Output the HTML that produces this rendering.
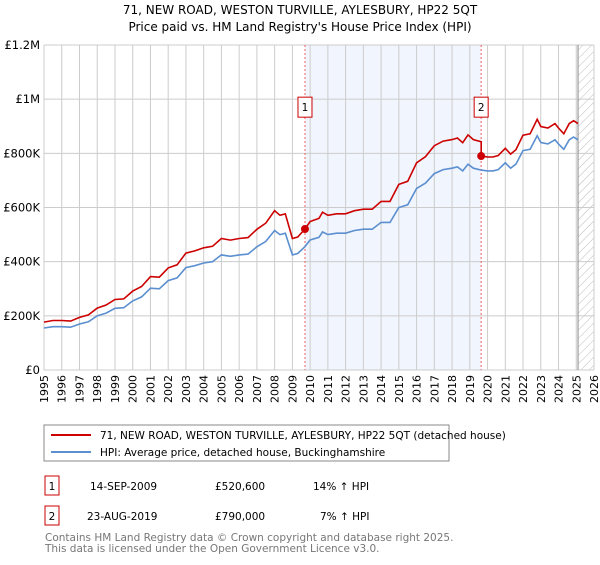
<!DOCTYPE html>
<html><head><meta charset="utf-8"><style>
body{margin:0;background:#fff;font-family:"Liberation Sans","DejaVu Sans",sans-serif;}
svg text{font-family:"DejaVu Sans","Liberation Sans",sans-serif;}
</style></head><body>
<svg id="c" width="600" height="560" xmlns="http://www.w3.org/2000/svg">
<defs><pattern id="hatch" width="6" height="6" patternUnits="userSpaceOnUse" patternTransform="rotate(45)"><line x1="0" y1="0" x2="0" y2="6" stroke="#bbb" stroke-width="1"/></pattern></defs>
<text x="300" y="14" text-anchor="middle" font-size="12">71, NEW ROAD, WESTON TURVILLE, AYLESBURY, HP22 5QT</text>
<text x="300" y="31" text-anchor="middle" font-size="12">Price paid vs. HM Land Registry's House Price Index (HPI)</text>
<g id="plot"></g>
<rect x="44" y="425" width="405" height="36" fill="#fff" stroke="#888"/>
<line x1="51" y1="435" x2="91" y2="435" stroke="#cc0000" stroke-width="2"/>
<text x="100" y="439" font-size="10.5">71, NEW ROAD, WESTON TURVILLE, AYLESBURY, HP22 5QT (detached house)</text>
<line x1="51" y1="452" x2="91" y2="452" stroke="#5b8fd0" stroke-width="2"/>
<text x="100" y="456" font-size="10.5">HPI: Average price, detached house, Buckinghamshire</text>
<rect x="45" y="476" width="14" height="19" fill="#fff" stroke="#cc0000"/>
<text x="52" y="490" font-size="10.5" text-anchor="middle">1</text>
<text x="90" y="490" font-size="10.5">14-SEP-2009</text>
<text x="215" y="490" font-size="10.5">£520,600</text>
<text x="313" y="490" font-size="10.5">14% ↑ HPI</text>
<rect x="45" y="506" width="14" height="19" fill="#fff" stroke="#cc0000"/>
<text x="52" y="520" font-size="10.5" text-anchor="middle">2</text>
<text x="87" y="520" font-size="10.5">23-AUG-2019</text>
<text x="215" y="520" font-size="10.5">£790,000</text>
<text x="320" y="520" font-size="10.5">7% ↑ HPI</text>
<text x="45" y="541" font-size="10.5" fill="#777">Contains HM Land Registry data © Crown copyright and database right 2025.</text>
<text x="45" y="552" font-size="10.5" fill="#777">This data is licensed under the Open Government Licence v3.0.</text>
</svg>
<script>
const hpiYears=[1995,1995.5,1996,1996.5,1997,1997.5,1998,1998.5,1999,1999.5,2000,2000.5,2001,2001.5,2002,2002.5,2003,2003.5,2004,2004.5,2005,2005.5,2006,2006.5,2007,2007.5,2008,2008.3,2008.6,2009,2009.3,2009.7,2010,2010.5,2010.7,2011,2011.5,2012,2012.5,2013,2013.5,2014,2014.5,2015,2015.5,2016,2016.5,2017,2017.5,2018,2018.3,2018.6,2018.9,2019.2,2019.65,2020,2020.3,2020.6,2021,2021.3,2021.6,2022,2022.4,2022.8,2023,2023.4,2023.8,2024,2024.3,2024.6,2024.85,2025.1];
const hpiValues=[155,160,160,158,170,178,200,210,228,230,255,270,302,300,330,340,378,385,395,400,425,420,425,428,455,475,515,500,505,425,430,455,480,490,510,500,505,505,515,520,520,545,545,600,610,670,690,725,740,745,750,735,760,745,738,735,735,740,765,745,760,810,815,865,840,835,850,835,815,850,860,850];
const saleYears=[2009.71,2019.64];
const salePrices=[520.6,790];
const yTicks=[0,200,400,600,800,1000,1200];
const yLabels=["£0","£200K","£400K","£600K","£800K","£1M","£1.2M"];
const xTicks=[1995,1996,1997,1998,1999,2000,2001,2002,2003,2004,2005,2006,2007,2008,2009,2010,2011,2012,2013,2014,2015,2016,2017,2018,2019,2020,2021,2022,2023,2024,2025,2026];
const X0=44,X1=594,Y0=370,Y1=45;
const xs=y=>X0+(y-1995)/(2026-1995)*(X1-X0);
const ys=v=>Y0-v/1200*(Y0-Y1);
const NS="http://www.w3.org/2000/svg";
const g=document.getElementById('plot');
function mk(t,a){const e=document.createElementNS(NS,t);for(const k in a)e.setAttribute(k,a[k]);g.appendChild(e);return e;}
function hpiAt(y){for(let i=1;i<hpiYears.length;i++){if(y<=hpiYears[i]){const t=(y-hpiYears[i-1])/(hpiYears[i]-hpiYears[i-1]);return hpiValues[i-1]+t*(hpiValues[i]-hpiValues[i-1]);}}return hpiValues[hpiValues.length-1];}
let r=mk('rect',{x:xs(saleYears[0]),y:Y1,width:xs(saleYears[1])-xs(saleYears[0]),height:Y0-Y1,fill:'#eef3fc',opacity:0.8});


let hr=mk('rect',{x:xs(2025.1),y:Y1,width:X1-xs(2025.1),height:Y0-Y1,fill:'url(#hatch)'});


xTicks.forEach(t=>{const l=mk('line',{x1:xs(t),x2:xs(t),y1:Y1,y2:Y0,stroke:'#ccc'});


const tx=mk('text',{x:0,y:0,'font-size':'11','text-anchor':'end',transform:`translate(${xs(t)+4},${Y0+5}) rotate(-90)`});tx.textContent=t;

});
yTicks.forEach((t,i)=>{const l=mk('line',{x1:X0,x2:X1,y1:ys(t),y2:ys(t),stroke:'#ccc'});


const tx=mk('text',{x:X0-4,y:ys(t)+4,'font-size':'11.5','text-anchor':'end'});tx.textContent=yLabels[i];

});
let bl=mk('line',{x1:xs(2025.1),x2:xs(2025.1),y1:Y1,y2:Y0,stroke:'#888'});


saleYears.forEach((s,i)=>{const l=mk('line',{x1:xs(s),x2:xs(s),y1:Y1,y2:Y0,stroke:'#f06060','stroke-dasharray':'2,2'});


const b=mk('rect',{x:xs(s)-7,y:ys(1000)-2,width:14,height:20,fill:'#fff',stroke:'#cc0000'});


const t=mk('text',{x:xs(s),y:ys(1000)+12,'font-size':'10.5','text-anchor':'middle'});t.textContent=i+1;

});
let hp=hpiYears.map((y,i)=>xs(y).toFixed(1)+','+ys(hpiValues[i]).toFixed(1)).join(' ');
let hl=mk('polyline',{points:hp,fill:'none',stroke:'#5b8fd0','stroke-width':1.6});


const f1=salePrices[0]/hpiAt(saleYears[0]),f2=salePrices[1]/hpiAt(saleYears[1]);
let pts=[];
hpiYears.forEach((y,i)=>{if(y<saleYears[1])pts.push([y,hpiValues[i]*f1]);});
pts.push([saleYears[1],hpiAt(saleYears[1])*f1]);
pts.push([saleYears[1],salePrices[1]]);
hpiYears.forEach((y,i)=>{if(y>saleYears[1])pts.push([y,hpiValues[i]*f2]);});
let pl=mk('polyline',{points:pts.map(p=>xs(p[0]).toFixed(1)+','+ys(p[1]).toFixed(1)).join(' '),fill:'none',stroke:'#cc0000','stroke-width':1.6});


saleYears.forEach((s,i)=>{const c=mk('circle',{cx:xs(s),cy:ys(salePrices[i]),r:4,fill:'#cc0000'});

});
</script>
</body></html>
